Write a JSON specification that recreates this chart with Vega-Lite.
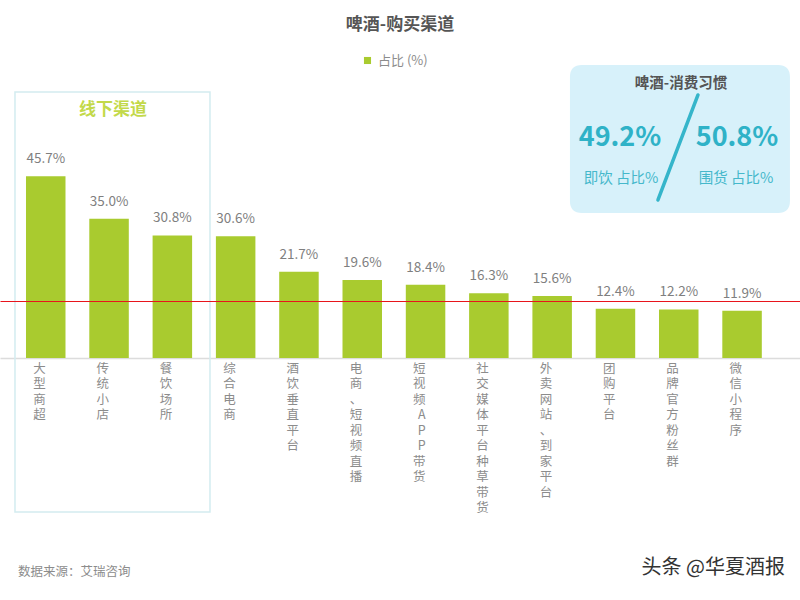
{
  "$schema": "https://vega.github.io/schema/vega-lite/v6.json",
  "width": 800,
  "height": 358,
  "autosize": {"type": "none"},
  "padding": {"top": 0, "left": 0, "right": 0, "bottom": 242},
  "background": "white",
  "title": {"text": "啤酒-购买渠道", "font": "Noto Sans CJK SC", "fontSize": 17, "fontWeight": "bold", "color": "#555555", "anchor": "middle", "offset": -34},
  "config": {"view": {"stroke": null}, "axisY": {"gridColor": "#e8141c", "gridOpacity": 1}},
  "data": {"values": [
    {"channel": "大型商超", "share": 0.457, "series": "占比 (%)"},
    {"channel": "传统小店", "share": 0.350, "series": "占比 (%)"},
    {"channel": "餐饮场所", "share": 0.308, "series": "占比 (%)"},
    {"channel": "综合电商", "share": 0.306, "series": "占比 (%)"},
    {"channel": "酒饮垂直平台", "share": 0.217, "series": "占比 (%)"},
    {"channel": "电商、短视频直播", "share": 0.196, "series": "占比 (%)"},
    {"channel": "短视频APP 带货", "share": 0.184, "series": "占比 (%)"},
    {"channel": "社交媒体平台种草带货", "share": 0.163, "series": "占比 (%)"},
    {"channel": "外卖网站、到家平台", "share": 0.156, "series": "占比 (%)"},
    {"channel": "团购平台", "share": 0.124, "series": "占比 (%)"},
    {"channel": "品牌官方粉丝群", "share": 0.122, "series": "占比 (%)"},
    {"channel": "微信小程序", "share": 0.119, "series": "占比 (%)"}
  ]},
  "layer": [
    {
      "data": {"values": [{"channel": "传统小店", "level": 0.1408}]},
      "mark": {"type": "point", "shape": "M -0.4643 -1 L 0.4643 -1 L 0.4643 1 L -0.4643 1 Z", "size": 176400, "filled": false, "stroke": "#d3ecf0", "strokeWidth": 1.5, "opacity": 1},
      "encoding": {
        "x": {"field": "channel", "type": "nominal", "bandPosition": 0.587},
        "y": {"field": "level", "type": "quantitative"}
      }
    },
    {
      "data": {"values": [{"channel": "品牌官方粉丝群", "level": 0.5505}]},
      "mark": {"type": "point", "shape": "M -0.891 -0.6727 L 0.891 -0.6727 Q 1 -0.6727 1 -0.5636 L 1 0.5636 Q 1 0.6727 0.891 0.6727 L -0.891 0.6727 Q -1 0.6727 -1 0.5636 L -1 -0.5636 Q -1 -0.6727 -0.891 -0.6727 Z", "size": 48400, "filled": true, "fill": "#d7f1fa", "strokeWidth": 0, "opacity": 1},
      "encoding": {
        "x": {"field": "channel", "type": "nominal", "bandPosition": 0.53},
        "y": {"field": "level", "type": "quantitative"}
      }
    },
    {
      "mark": {"type": "bar"},
      "encoding": {
        "x": {
          "field": "channel", "type": "nominal", "sort": null,
          "scale": {
            "domain": ["大型商超", "传统小店", "餐饮场所", "综合电商", "酒饮垂直平台", "电商、短视频直播", "短视频APP 带货", "社交媒体平台种草带货", "外卖网站、到家平台", "团购平台", "品牌官方粉丝群", "微信小程序"],
            "paddingInner": 0.376, "paddingOuter": 0.507, "align": 0.405
          },
          "axis": {
            "title": null, "domain": true, "domainColor": "#dcdcdc", "domainWidth": 1.5, "ticks": false, "labelAngle": 0,
            "labelPadding": 10, "labelExpr": "split(datum.label, '')",
            "labelLineHeight": 15.5, "labelFont": "Noto Sans CJK SC", "labelFontSize": 12.5,
            "labelColor": "#8c8c8c", "labelOverlap": false, "labelLimit": 0
          }
        },
        "y": {
          "field": "share", "type": "quantitative", "stack": null,
          "scale": {"domain": [0, 0.9], "nice": false, "zero": true},
          "axis": {"values": [0.1445], "grid": true, "gridColor": "#e8141c", "gridWidth": 1.2, "gridOpacity": 1, "labels": false, "ticks": false, "domain": false, "title": null, "zindex": 2}
        },
        "color": {
          "field": "series", "type": "nominal",
          "scale": {"range": ["#a9cb2f"]},
          "legend": {
            "title": null, "orient": "none", "legendX": 361, "legendY": 54,
            "symbolType": "square", "symbolSize": 50, "labelFont": "Noto Sans CJK SC",
            "labelFontSize": 13, "labelColor": "#8c8c8c"
          }
        }
      }
    },
    {
      "mark": {"type": "text", "baseline": "alphabetic", "dy": -13, "font": "Liberation Sans Narrow, Noto Sans CJK SC, sans-serif", "fontSize": 13.5, "color": "#7f7f7f"},
      "encoding": {
        "x": {"field": "channel", "type": "nominal"},
        "y": {"field": "share", "type": "quantitative"},
        "text": {"field": "share", "type": "quantitative", "format": ".1%"}
      }
    },
    {
      "data": {"values": [{"channel": "传统小店", "label": "线下渠道", "level": 0.6234}]},
      "mark": {"type": "text", "font": "Noto Sans CJK SC", "fontSize": 17, "fontWeight": "bold", "color": "#c3d94a", "baseline": "middle"},
      "encoding": {
        "x": {"field": "channel", "type": "nominal", "bandPosition": 0.6},
        "y": {"field": "level", "type": "quantitative"},
        "text": {"field": "label"}
      }
    },
    {
      "data": {"values": [{"channel": "品牌官方粉丝群", "label": "啤酒-消费习惯", "level": 0.6888}]},
      "mark": {"type": "text", "font": "Noto Sans CJK SC", "fontSize": 14.5, "fontWeight": "bold", "color": "#555555", "baseline": "middle"},
      "encoding": {
        "x": {"field": "channel", "type": "nominal", "bandPosition": 0.557},
        "y": {"field": "level", "type": "quantitative"},
        "text": {"field": "label"}
      }
    },
    {
      "data": {"values": [{"channel": "团购平台", "label": "49.2%", "level": 0.5531}]},
      "mark": {"type": "text", "font": "Liberation Sans Narrow, Noto Sans CJK SC, sans-serif", "fontSize": 27, "fontWeight": "bold", "color": "#2fb2c7", "baseline": "middle"},
      "encoding": {
        "x": {"field": "channel", "type": "nominal", "bandPosition": 0.615},
        "y": {"field": "level", "type": "quantitative"},
        "text": {"field": "label"}
      }
    },
    {
      "data": {"values": [{"channel": "微信小程序", "label": "50.8%", "level": 0.5531}]},
      "mark": {"type": "text", "font": "Liberation Sans Narrow, Noto Sans CJK SC, sans-serif", "fontSize": 27, "fontWeight": "bold", "color": "#2fb2c7", "baseline": "middle"},
      "encoding": {
        "x": {"field": "channel", "type": "nominal", "bandPosition": 0.372},
        "y": {"field": "level", "type": "quantitative"},
        "text": {"field": "label"}
      }
    },
    {
      "data": {"values": [{"channel": "团购平台", "label": "即饮 占比%", "level": 0.45}]},
      "mark": {"type": "text", "font": "Noto Sans CJK SC", "fontSize": 14.5, "color": "#45b8cb", "baseline": "middle"},
      "encoding": {
        "x": {"field": "channel", "type": "nominal", "bandPosition": 0.64},
        "y": {"field": "level", "type": "quantitative"},
        "text": {"field": "label"}
      }
    },
    {
      "data": {"values": [{"channel": "微信小程序", "label": "围货 占比%", "level": 0.45}]},
      "mark": {"type": "text", "font": "Noto Sans CJK SC", "fontSize": 14.5, "color": "#45b8cb", "baseline": "middle"},
      "encoding": {
        "x": {"field": "channel", "type": "nominal", "bandPosition": 0.347},
        "y": {"field": "level", "type": "quantitative"},
        "text": {"field": "label"}
      }
    },
    {
      "data": {"values": [{"channel": "品牌官方粉丝群", "level": 0.5292}]},
      "mark": {"type": "point", "shape": "M 0.381 -1 L -0.381 1", "size": 11025, "filled": false, "stroke": "#35b5ca", "strokeWidth": 3.5, "strokeCap": "round", "opacity": 1},
      "encoding": {
        "x": {"field": "channel", "type": "nominal", "bandPosition": 0.48},
        "y": {"field": "level", "type": "quantitative"}
      }
    },
    {
      "data": {"values": [{"channel": "大型商超", "label": "数据来源：艾瑞咨询", "level": -0.538}]},
      "mark": {"type": "text", "font": "Noto Sans CJK SC", "fontSize": 12.5, "color": "#8c8c8c", "align": "left", "baseline": "middle"},
      "encoding": {
        "x": {"field": "channel", "type": "nominal", "bandPosition": -0.2},
        "y": {"field": "level", "type": "quantitative"},
        "text": {"field": "label"}
      }
    },
    {
      "data": {"values": [{"channel": "微信小程序", "label": "头条 @华夏酒报", "level": -0.528}]},
      "mark": {"type": "text", "font": "Noto Sans CJK SC", "fontSize": 20, "color": "#333333", "align": "right", "baseline": "middle"},
      "encoding": {
        "x": {"field": "channel", "type": "nominal", "bandPosition": 1.587},
        "y": {"field": "level", "type": "quantitative"},
        "text": {"field": "label"}
      }
    }
  ]
}
